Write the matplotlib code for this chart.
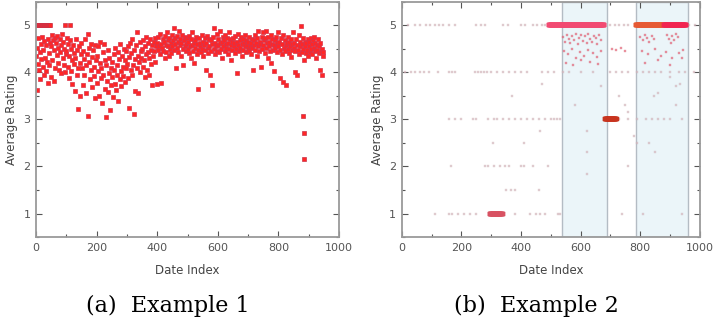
import numpy as np
import matplotlib
matplotlib.use("Agg")
import matplotlib.pyplot as plt
from matplotlib.ticker import MultipleLocator

# ---------------- Panel (a): average rating per date index (step 2) ----------------
step_a = 2
rating_a = [
    4.35, 3.62, 4.51, 4.18, 4.72, 4.05, 4.44, 3.85, 4.60, 4.28, 4.75, 4.12, 4.48, 3.95, 4.66, 4.31, 4.02, 4.57, 4.22, 3.78, 4.70, 4.40, 4.15, 4.63, 3.90,
    4.55, 4.80, 4.25, 4.68, 3.82, 4.47, 4.73, 4.10, 4.62, 4.36, 4.78, 4.20, 4.52, 4.05, 4.70, 4.42, 3.98, 4.58, 4.82, 4.30, 4.65, 4.15, 4.50, 4.00, 4.38,
    4.45, 4.72, 4.12, 4.60, 3.88, 4.35, 4.68, 4.02, 4.50, 4.25, 3.75, 4.58, 4.18, 4.40, 3.60, 4.30, 4.70, 3.95, 4.48, 4.08, 3.22, 4.55, 4.20, 3.50, 4.38,
    4.62, 4.10, 3.72, 4.45, 4.28, 3.95, 4.70, 4.15, 3.55, 4.38, 4.82, 3.08, 4.22, 4.52, 3.85, 4.05, 4.60, 4.32, 3.68, 4.48, 4.12, 3.92, 4.58, 3.45, 4.25,
    4.35, 3.78, 4.55, 4.02, 3.50, 4.20, 4.65, 3.88, 4.10, 3.35, 4.42, 3.95, 4.60, 3.65, 4.25, 3.05, 4.15, 3.82, 4.48, 3.58, 3.98, 4.30, 3.20, 4.08, 3.72,
    4.22, 3.90, 3.48, 4.38, 4.05, 3.75, 4.52, 3.62, 4.15, 3.95, 4.42, 3.40, 4.28, 3.85, 4.60, 4.02, 3.70, 4.35, 4.12, 3.92, 4.50, 3.80, 4.25, 4.08, 4.45,
    4.18, 4.55, 3.88, 4.32, 3.25, 4.62, 4.05, 4.40, 3.95, 4.70, 4.15, 3.12, 4.48, 4.28, 3.60, 4.58, 4.10, 4.85, 3.55, 4.35, 4.22, 4.65, 4.00, 4.45, 4.30,
    4.50, 4.12, 4.68, 4.25, 3.90, 4.55, 4.38, 4.75, 4.05, 4.42, 4.62, 3.95, 4.30, 4.70, 4.18, 4.48, 4.58, 3.72, 4.35, 4.65, 4.45, 4.22, 4.72, 4.55, 3.75,
    4.62, 4.48, 4.75, 4.55, 4.38, 4.82, 4.60, 3.78, 4.52, 4.70, 4.45, 4.65, 4.30, 4.78, 4.58, 4.42, 4.85, 4.55, 4.68, 4.35, 4.72, 4.50, 4.62, 4.40, 4.80,
    4.55, 4.68, 4.95, 4.48, 4.72, 4.60, 4.10, 4.78, 4.52, 4.65, 4.42, 4.88, 4.58, 4.70, 4.35, 4.62, 4.80, 4.50, 4.15, 4.68, 4.55, 4.75, 4.45, 4.60, 4.72,
    4.50, 4.65, 4.40, 4.78, 4.55, 4.30, 4.70, 4.58, 4.85, 4.45, 4.62, 4.20, 4.68, 4.52, 4.75, 4.38, 4.60, 4.48, 3.65, 4.72, 4.55, 4.62, 4.42, 4.80, 4.50,
    4.65, 4.35, 4.58, 4.72, 4.48, 4.05, 4.62, 4.78, 4.52, 4.40, 4.70, 4.55, 3.95, 4.68, 4.45, 4.60, 3.72, 4.75, 4.50, 4.95, 4.38, 4.62, 4.55, 4.82, 4.45,
    4.58, 4.70, 4.42, 4.62, 4.88, 4.50, 4.65, 4.30, 4.75, 4.55, 4.68, 4.45, 4.80, 4.60, 4.52, 4.72, 4.38, 4.62, 4.85, 4.50, 4.70, 4.58, 4.25, 4.65, 4.48,
    4.72, 4.55, 4.62, 4.40, 4.78, 4.50, 3.98, 4.65, 4.58, 4.82, 4.45, 4.68, 4.52, 4.75, 4.35, 4.60, 4.70, 4.48, 4.62, 4.55, 4.80, 4.42, 4.68, 4.58, 4.50,
    4.65, 4.45, 4.75, 4.55, 4.62, 4.38, 4.70, 4.52, 4.05, 4.68, 4.58, 4.80, 4.48, 4.62, 4.35, 4.72, 4.55, 4.88, 4.45, 4.65, 4.60, 4.12, 4.75, 4.50, 4.85,
    4.58, 4.68, 4.40, 4.72, 4.88, 4.52, 4.62, 4.30, 4.75, 4.55, 4.65, 4.45, 4.80, 4.20, 4.60, 4.70, 4.48, 4.58, 4.02, 4.68, 4.52, 4.75, 4.42, 4.62, 4.85,
    4.55, 4.65, 3.88, 4.48, 4.72, 4.38, 4.60, 4.80, 3.80, 4.52, 4.68, 4.45, 4.58, 3.72, 4.62, 4.50, 4.75, 4.40, 4.65, 4.55, 4.32, 4.70, 4.48, 4.60, 4.85,
    4.52, 4.62, 4.00, 4.45, 4.70, 3.95, 4.58, 4.48, 4.80, 4.38, 4.65, 4.55, 4.98, 4.42, 4.60, 4.72, 4.50, 4.25, 4.65, 4.55, 4.40, 4.62, 4.48, 4.70, 4.35,
    4.55, 4.65, 4.42, 4.72, 4.50, 4.60, 4.38, 4.68, 4.52, 4.75, 4.45, 4.62, 4.30, 4.58, 4.48, 4.70, 4.40, 4.55, 4.05, 4.62, 4.45, 3.95, 4.50, 4.42, 4.35,
]
extra_x_a = [4, 7, 10, 13, 16, 19, 22, 25, 28, 31, 34, 37, 40, 43, 46, 95, 112, 881, 883, 885]
extra_y_a = [5.0, 5.0, 5.0, 5.0, 5.0, 5.0, 5.0, 5.0, 5.0, 5.0, 5.0, 5.0, 5.0, 5.0, 5.0, 5.0, 5.0, 3.08, 2.72, 2.15]

# ---------------- Panel (b): individual ratings per date index ----------------
shade_ranges_b = [(537, 688), (785, 960)]

faint_x_b = [20, 45, 60, 80, 95, 110, 125, 140, 160, 180, 250, 265, 280, 340, 355, 400, 415, 440, 455, 470, 480, 700, 715, 730, 745, 760, 965, 985,
             10, 30, 45, 60, 75, 90, 120, 160, 170, 180, 245, 255, 265, 275, 285, 300, 320, 340, 360, 380, 400, 420, 470, 490, 510, 540, 560, 600, 640, 700, 720, 740, 760, 790, 810, 830, 850, 870, 900, 930, 950, 980,
             160, 180, 200, 240, 250, 290, 310, 320, 340, 360, 380, 400, 420, 440, 460, 480, 500, 510, 520, 530, 730, 760, 790, 820, 840, 860, 880, 900, 940,
             165, 280, 290, 310, 330, 345, 360, 400, 410, 440, 490, 760,
             110, 160, 170, 190, 210, 230, 250, 380, 430, 450, 465, 480, 525, 530, 740, 810, 940,
             350, 365, 380, 460, 305, 410,
             620, 620, 620, 580, 470, 370, 465, 670, 730, 750, 760, 780, 790, 830, 850, 845, 860, 920, 900, 935, 920]
faint_y_b = [5]*28 + [4]*42 + [3]*29 + [2]*12 + [1]*17 + [1.5]*4 + [2.5]*2 + \
            [2.75, 2.3, 1.85, 3.3, 3.75, 3.5, 2.75, 3.7, 3.5, 3.3, 3.15, 2.65, 2.5, 2.5, 2.3, 3.5, 3.55, 3.7, 3.9, 3.75, 3.3]

band_x_b = [540, 548, 555, 560, 566, 572, 578, 585, 590, 596, 602, 608, 614, 620, 626, 632, 638, 644, 650, 656, 662, 668,
            545, 558, 570, 584, 598, 612, 625, 640, 655, 670, 552, 575, 600, 630, 660, 705, 720, 735, 750,
            800, 808, 815, 822, 830, 838, 845, 890, 896, 902, 908, 914, 920, 926, 805, 825, 850, 870, 885, 905, 930, 945, 815, 860, 900, 940]
band_y_b = [4.75, 4.65, 4.8, 4.7, 4.62, 4.78, 4.68, 4.82, 4.6, 4.72, 4.8, 4.66, 4.76, 4.62, 4.82, 4.7, 4.64, 4.78, 4.72, 4.6, 4.8, 4.68,
            4.45, 4.38, 4.5, 4.3, 4.42, 4.35, 4.48, 4.4, 4.32, 4.45, 4.2, 4.15, 4.25, 4.22, 4.18, 4.5, 4.48, 4.52, 4.45,
            4.75, 4.68, 4.8, 4.72, 4.65, 4.78, 4.7, 4.8, 4.7, 4.62, 4.76, 4.68, 4.82, 4.74, 4.45, 4.38, 4.5, 4.35, 4.42, 4.3, 4.4, 4.48, 4.2, 4.25, 4.15, 4.3]

dense_runs_b = [(493, 681, 5, "#f24a72"), (785, 880, 5, "#e65a34"), (880, 956, 5, "#f22450"),
                (682, 722, 3, "#c8341e"), (295, 340, 1, "#d85262")]

# ---------------- Figure ----------------
fig = plt.figure(figsize=(7.2, 3.2), dpi=100)
ax1 = fig.add_axes([0.05, 0.259, 0.421, 0.736])
ax2 = fig.add_axes([0.558, 0.259, 0.414, 0.736])

frame = "#9a9a9a"
tickc = "#555555"

x_a = np.arange(len(rating_a)) * step_a
ax1.plot(x_a, rating_a, ls="none", marker="s", ms=2.4, mfc="#ff2626", mec="#d8344a", mew=0.5)
ax1.plot(extra_x_a, extra_y_a, ls="none", marker="s", ms=2.4, mfc="#ff2626", mec="#c8344a", mew=0.5)

for lo, hi in shade_ranges_b:
    ax2.axvspan(lo, hi, facecolor="#ebf5f9", edgecolor="#b4bcc4", lw=1.0, zorder=0)
ax2.plot(faint_x_b, faint_y_b, ls="none", marker="s", ms=1.9, mfc="#d8b4bc", mec="#c8b0b6", mew=0.3, alpha=0.6)
ax2.plot(band_x_b, band_y_b, ls="none", marker="s", ms=1.8, mfc="#e86074", mec="#d06070", mew=0.3, alpha=0.6)
for lo, hi, lev, col in dense_runs_b:
    xs = np.arange(lo, hi)
    ax2.plot(xs, np.full(len(xs), lev), ls="none", marker="s", ms=2.8, mfc=col, mec=col, mew=0.3)

for ax in (ax1, ax2):
    ax.set_xlim(0, 1000)
    ax.set_ylim(0.5, 5.5)
    ax.xaxis.set_major_locator(MultipleLocator(200))
    ax.xaxis.set_minor_locator(MultipleLocator(100))
    ax.yaxis.set_major_locator(MultipleLocator(1))
    ax.yaxis.set_minor_locator(MultipleLocator(0.5))
    ax.tick_params(which="both", direction="in", top=True, right=True, color=tickc, labelcolor="#555555", labelsize=8, width=0.8)
    ax.tick_params(which="major", length=4, pad=4)
    ax.tick_params(which="minor", length=2.5)
    for s in ax.spines.values():
        s.set_color(frame)
        s.set_linewidth(1.3)
    ax.set_xlabel("Date Index", fontsize=8.5, color="#444444", labelpad=8)
    ax.set_ylabel("Average Rating", fontsize=8.5, color="#444444", labelpad=4)

fig.text(0.233, 0.045, "(a)  Example 1", ha="center", va="center", family="DejaVu Serif", fontsize=16)
fig.text(0.745, 0.045, "(b)  Example 2", ha="center", va="center", family="DejaVu Serif", fontsize=16)

fig.savefig("out.png", dpi=100)
